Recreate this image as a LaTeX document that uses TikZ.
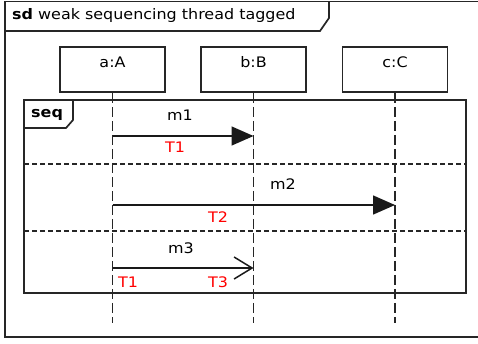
\documentclass[tikz,border=0pt]{standalone}
\usepackage{fontspec}
\newfontfamily\lblfont[FakeStretch=1.1]{DejaVu Sans}
\usetikzlibrary{arrows.meta,calc}
\definecolor{tagred}{RGB}{255,0,0}
\begin{document}
\begin{tikzpicture}[x=1pt,y=-1pt,
  frameline/.style={line width=1.7pt, draw=black!85},
  lifebox/.style={draw=black!85, line width=1.7pt, fill=white, minimum width=105pt, minimum height=45pt, inner sep=0pt},
  lbl/.style={font=\lblfont\fontsize{14.5}{17}\selectfont, inner sep=0pt},
  tag/.style={lbl, text=tagred},
  lifeline/.style={line width=1.5pt, draw=black!85, dash pattern=on 10pt off 4pt},
  sep/.style={line width=1.5pt, draw=black!85, dash pattern=on 5pt off 3pt},
  msg/.style={line width=1.5pt, draw=black!90},
  syncmsg/.style={msg, -{Triangle[length=22pt,width=19pt]}},
  asyncmsg/.style={msg, -{Straight Barb[length=18pt,width=22pt,line width=1.5pt]}}
]
\useasboundingbox (0,0) rectangle (478,343);
\clip (0,0) rectangle (478,343);
% outer frame
\draw[frameline] (490,1.5) -- (5,1.5) -- (5,337) -- (490,337);
\draw[frameline] (5,31) -- (320,31) -- (329,18) -- (329,1.5);
\node[lbl, anchor=west] (title) at (12,15.5) {\textbf{sd} weak sequencing thread tagged};
% lifeline boxes
\node[lifebox] (a) at (112.5,69.5) {};
\node[lifebox] (b) at (253.5,69.5) {};
\node[lifebox] (c) at (395,69.5) {};
\node[lbl] (la) at ($(a.north)+(0,16)$) {a:A};
\node[lbl] (lb) at ($(b.north)+(0,16)$) {b:B};
\node[lbl] (lc) at ($(c.north)+(0,16)$) {c:C};
\coordinate (yend) at (0,323);
\draw[lifeline] (a.south) -- (a.south |- yend);
\draw[lifeline] (b.south) -- (b.south |- yend);
\draw[lifeline] (c.south) -- (c.south |- yend);
% seq combined fragment
\draw[frameline] (24,100) rectangle (466,293);
\draw[frameline] (24,128) -- (66,128) -- (73,120) -- (73,100);
\node[lbl, anchor=west] (seqlbl) at (31,115) {\textbf{seq}};
\draw[sep] (24,164) -- (466,164);
\draw[sep] (24,231) -- (466,231);
% messages
\coordinate (y1) at (0,136);
\coordinate (y2) at (0,205);
\coordinate (y3) at (0,268);
\draw[syncmsg] (a.south |- y1) -- (b.south |- y1);
\draw[syncmsg] (a.south |- y2) -- (c.south |- y2);
\draw[asyncmsg] (a.south |- y3) -- (b.south |- y3);
\node[lbl] (m1) at (180,115) {m1};
\node[lbl] (m2) at (283,184) {m2};
\node[lbl] (m3) at (181,248) {m3};
\node[tag] (t1a) at (175,147) {T1};
\node[tag] (t2) at (218,217) {T2};
\node[tag] (t1b) at (128,282) {T1};
\node[tag] (t3) at (218,282) {T3};
\end{tikzpicture}
\end{document}
